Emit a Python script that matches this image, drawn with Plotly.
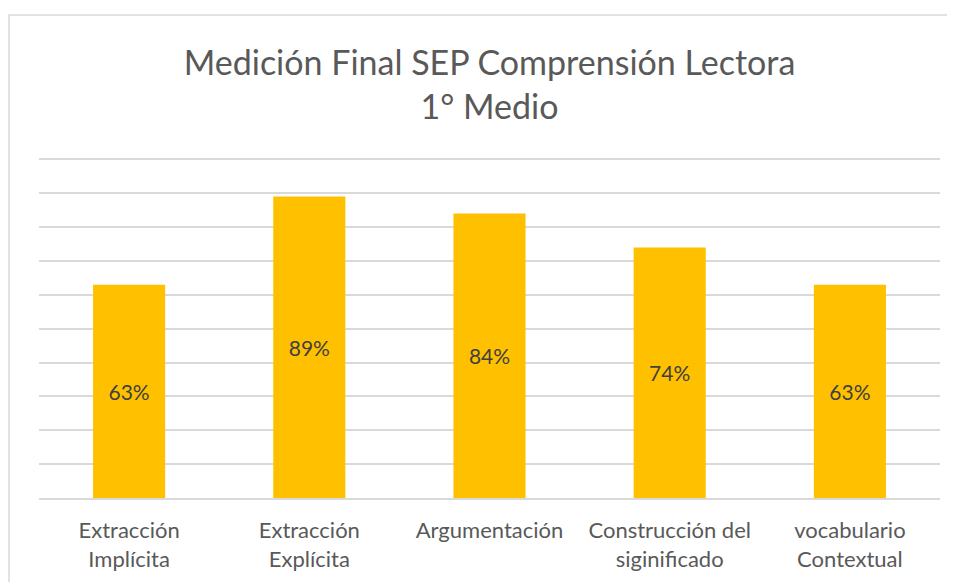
import plotly.graph_objects as go

categorias = [
    "Extracción<br>Implícita",
    "Extracción<br>Explícita",
    "Argumentación",
    "Construcción del<br>siginificado",
    "vocabulario<br>Contextual",
]
porcentajes = [63, 89, 84, 74, 63]
etiquetas = ["63%", "89%", "84%", "74%", "63%"]

# la página añade ~8px de margen al cuerpo; se compensa aquí
L, T, W_PLOT, H_PLOT = 31, 150, 901, 340

fig = go.Figure()
fig.add_trace(
    go.Bar(
        x=categorias,
        y=porcentajes,
        text=etiquetas,
        textposition="inside",
        insidetextanchor="middle",
        textfont=dict(size=21, color="#404040", family="Lato"),
        marker=dict(color="#FFC000", line=dict(width=0)),
        width=0.4,
        hoverinfo="skip",
    )
)

fig.update_layout(
    width=955,
    height=582,
    paper_bgcolor="white",
    plot_bgcolor="white",
    font=dict(family="Lato", color="#595959"),
    title=dict(
        text="Medición Final SEP Comprensión Lectora<br>1° Medio",
        x=(L + W_PLOT / 2) / 955,
        xanchor="center",
        y=1 - 67 / 582,
        yanchor="middle",
        font=dict(size=34, color="#595959", family="Lato"),
    ),
    margin=dict(l=L, r=955 - L - W_PLOT, t=T, b=582 - T - H_PLOT),
    showlegend=False,
    shapes=[
        dict(
            type="rect",
            xref="paper",
            yref="paper",
            x0=(1 - L) / W_PLOT,
            x1=(990 - L) / W_PLOT,
            y0=-0.4,
            y1=1 + (T - 7) / H_PLOT,
            line=dict(color="#d9d9d9", width=1.5),
            fillcolor="rgba(0,0,0,0)",
            layer="below",
        )
    ],
)

fig.update_xaxes(
    showgrid=False,
    showline=True,
    linecolor="#d9d9d9",
    linewidth=2,
    tickfont=dict(size=22, color="#595959", family="Lato"),
    ticks="",
    ticklabelstandoff=12,
)
fig.update_yaxes(
    range=[0, 100.4],
    tick0=0,
    dtick=10,
    showticklabels=False,
    showgrid=True,
    gridcolor="#d9d9d9",
    gridwidth=2,
    zeroline=False,
)

fig.write_html("out.html")
